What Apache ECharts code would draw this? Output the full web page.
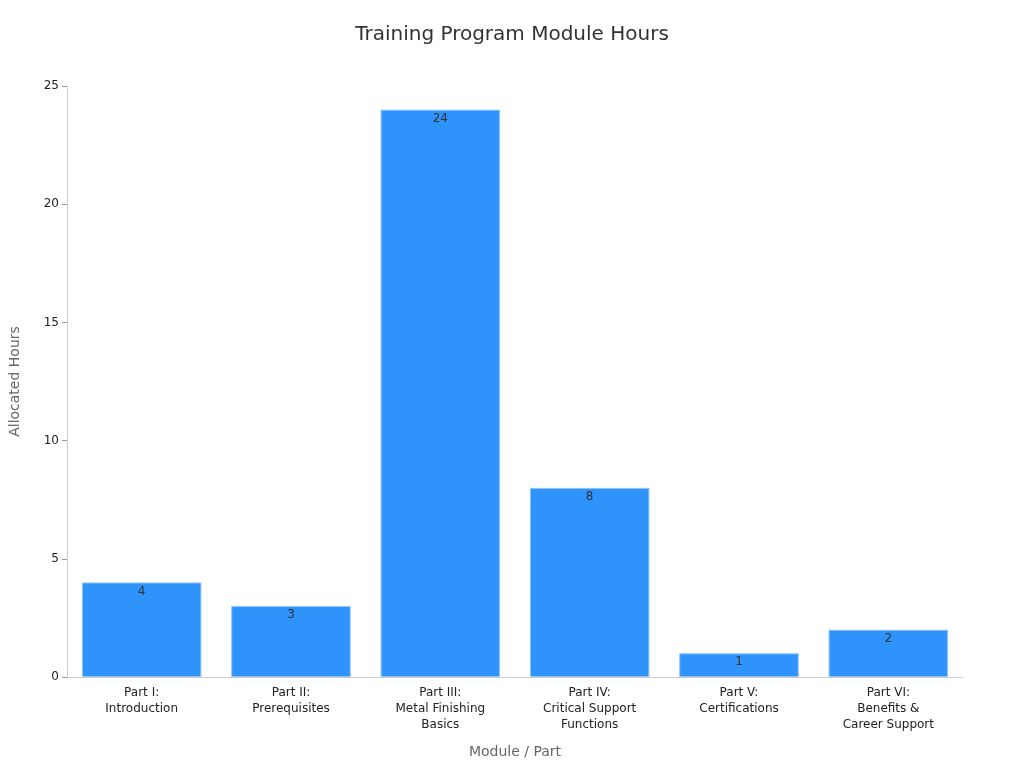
<!DOCTYPE html>
<html><head><meta charset="utf-8">
<script src="https://cdn.jsdelivr.net/npm/echarts@6/dist/echarts.min.js"></script>
<style>html,body{margin:0;padding:0;background:#fff}#c{width:1024px;height:768px}</style>
</head><body><div id="c"></div>
<script>
const categories = ["Part I:\nIntroduction","Part II:\nPrerequisites","Part III:\nMetal Finishing\nBasics","Part IV:\nCritical Support\nFunctions","Part V:\nCertifications","Part VI:\nBenefits &\nCareer Support"];
const hours = [4,3,24,8,1,2];
const chart = echarts.init(document.getElementById('c'));
chart.setOption({
  textStyle:{fontFamily:'DejaVu Sans'},
  title:{text:'Training Program Module Hours',left:'center',top:20,textStyle:{fontSize:20,fontWeight:'normal',color:'#333',fontFamily:'DejaVu Sans'}},
  grid:{left:60,right:61,top:86,bottom:91},
  xAxis:{type:'category',data:categories,name:'Module / Part',nameLocation:'middle',nameGap:68,
    nameTextStyle:{fontSize:14,color:'#666'},
    axisLine:{lineStyle:{color:'#ccc'}},axisTick:{alignWithLabel:true,lineStyle:{color:'#999'}},
    axisLabel:{color:'#222',fontSize:12,lineHeight:16,interval:0}},
  yAxis:{type:'value',min:0,max:25,interval:5,name:'Allocated Hours',nameLocation:'middle',nameGap:45,
    nameTextStyle:{fontSize:14,color:'#666'},
    axisLine:{show:true,lineStyle:{color:'#ccc'}},axisTick:{show:true,lineStyle:{color:'#999'}},
    axisLabel:{color:'#222',fontSize:12},splitLine:{show:false}},
  series:[{type:'bar',data:hours,barWidth:'80%',
    itemStyle:{color:'#2E93FA',borderColor:'#8cc4fb',borderWidth:1},
    label:{show:true,position:'insideTop',color:'#333',fontSize:12,offset:[0,-2]}}]
});
</script></body></html>
